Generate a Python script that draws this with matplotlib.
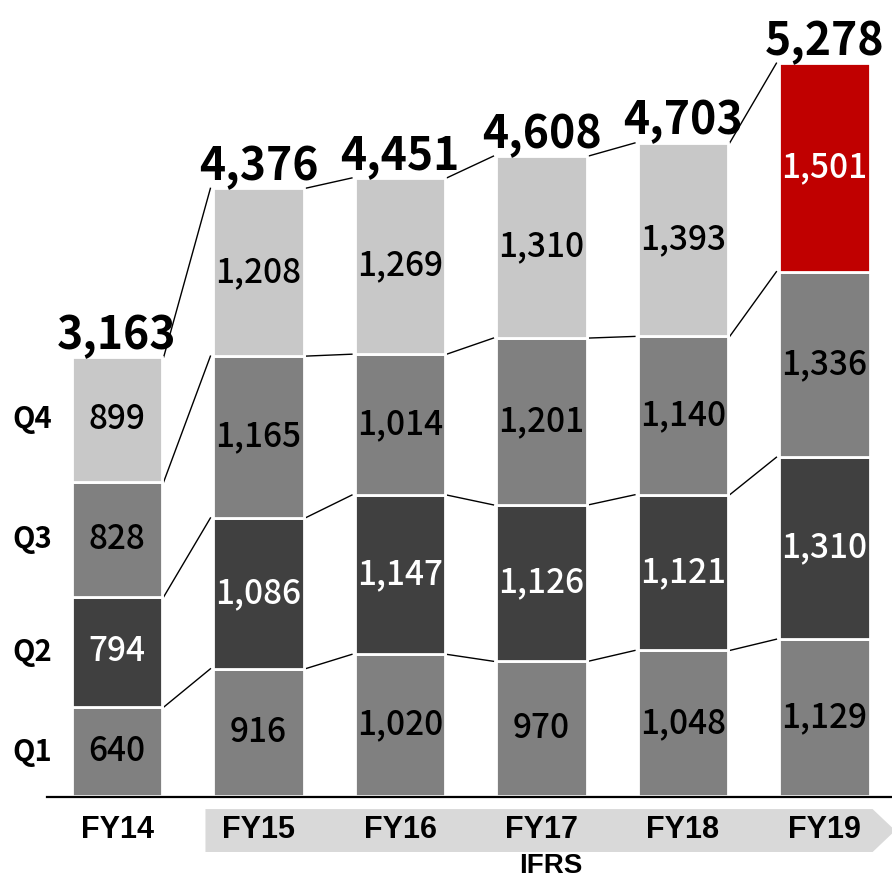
import numpy as np
import matplotlib
matplotlib.use('Agg')
import matplotlib.pyplot as plt
from matplotlib.patches import Polygon
from matplotlib import font_manager

years = ['FY14', 'FY15', 'FY16', 'FY17', 'FY18', 'FY19']
quarters = ['Q1', 'Q2', 'Q3', 'Q4']
q1 = [640, 916, 1020, 970, 1048, 1129]
q2 = [794, 1086, 1147, 1126, 1121, 1310]
q3 = [828, 1165, 1014, 1201, 1140, 1336]
q4 = [899, 1208, 1269, 1310, 1393, 1501]
totals = [3163, 4376, 4451, 4608, 4703, 5278]

font_names = {f.name for f in font_manager.fontManager.ttflist}
narrow = 'Liberation Sans Narrow' if 'Liberation Sans Narrow' in font_names else 'Liberation Sans'
num_font = ['Noto Sans CJK JP', 'DejaVu Sans']

fig = plt.figure(figsize=(8.92, 8.82), dpi=100)
ax = fig.add_axes([0, 0, 1, 1])
ax.set_xlim(-0.827, 5.477)
ax.set_ylim(-619, 5731)
ax.axis('off')

x = np.arange(len(years))
width = 0.64
series = [q1, q2, q3, q4]
base_colors = ['#808080', '#404040', '#808080', '#c8c8c8']
text_colors = ['black', 'white', 'black', 'black']

bottom = np.zeros(len(years))
tops = []
for qi, vals in enumerate(series):
    vals = np.array(vals)
    colors = [base_colors[qi]] * len(years)
    tcols = [text_colors[qi]] * len(years)
    if qi == 3:
        colors[-1] = '#c00000'
        tcols[-1] = 'white'
    ax.bar(x, vals, width, bottom=bottom, color=colors, edgecolor='white', linewidth=2, zorder=2)
    for i in range(len(years)):
        ax.text(x[i], bottom[i] + vals[i] / 2, f'{vals[i]:,}', ha='center', va='center',
                fontsize=24, fontweight='medium', color=tcols[i], family=num_font, zorder=3)
    bottom = bottom + vals
    tops.append(bottom.copy())

# connector lines between bar tops
for top in tops:
    for i in range(len(years) - 1):
        ax.plot([x[i] + width / 2 + 0.01, x[i + 1] - width / 2 - 0.02], [top[i], top[i + 1]],
                color='black', lw=1, zorder=1)

for i, t in enumerate(totals):
    ax.annotate(f'{t:,}', (x[i], bottom[i]), xytext=(0, 6), textcoords='offset points',
                ha='center', va='baseline', fontsize=32, fontweight='bold', family=num_font)

# quarter labels next to the first bar
cum = 0
for qi, vals in enumerate(series):
    ax.text(-0.6, cum + vals[0] / 2, quarters[qi], ha='center', va='center',
            fontsize=21, fontweight='bold', family=num_font)
    cum += vals[0]

# baseline
ax.plot([-0.495, 5.477], [-7, -7], color='black', lw=1.6, zorder=2)

# IFRS arrow band
band_top, band_bot = -94, -403
left = x[1] - 0.375
right = x[-1] + 0.34
tip = x[-1] + 0.5
band = Polygon([[left, band_top], [right, band_top], [tip, (band_top + band_bot) / 2],
                [right, band_bot], [left, band_bot]], closed=True, facecolor='#d9d9d9',
               edgecolor='none', zorder=0)
ax.add_patch(band)

for i, y in enumerate(years):
    ax.text(x[i], -245, y, ha='center', va='center', fontsize=22, fontweight='bold', family=narrow)
ax.text((left + tip) / 2, -505, 'IFRS', ha='center', va='center', fontsize=20,
        fontweight='bold', family=narrow)

fig.savefig('out.png', dpi=100)
